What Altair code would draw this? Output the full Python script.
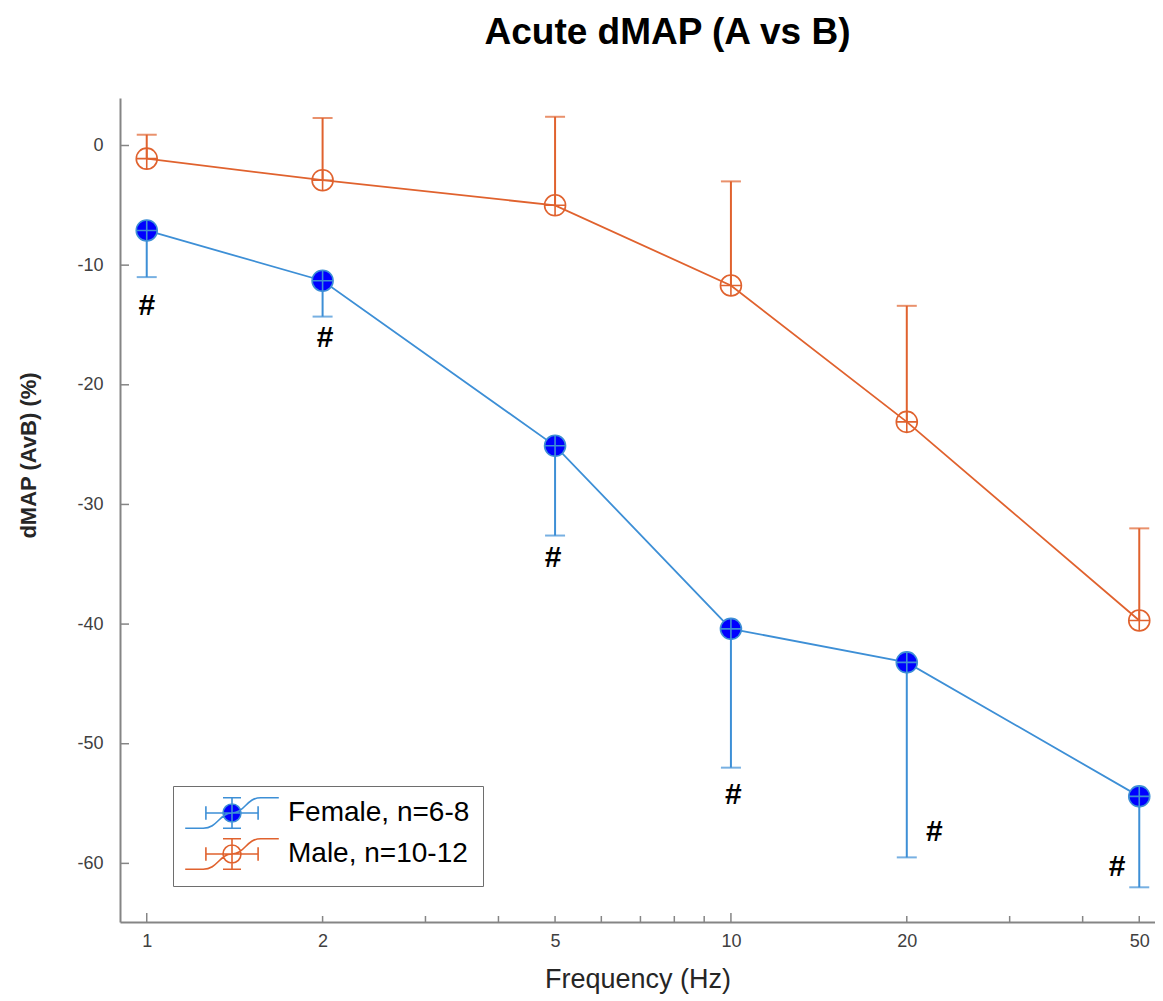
import altair as alt
import pandas as pd

# ---- data ----
freq = [1, 2, 5, 10, 20, 50]
series = ["Female, n=6-8", "Male, n=10-12"]
female_mean = [-7.1, -11.3, -25.1, -40.4, -43.2, -54.4]
female_lower = [-11.0, -14.3, -32.6, -52.0, -59.5, -62.0]
male_mean = [-1.1, -2.9, -5.0, -11.7, -23.1, -39.7]
male_upper = [0.9, 2.3, 2.4, -3.0, -13.4, -32.0]
hash_x = [1.0, 2.02, 4.96, 10.1, 22.3, 45.8]
hash_y = [-13.4, -16.1, -34.5, -54.3, -57.4, -60.3]
x_labels = [1, 2, 5, 10, 20, 50]
x_major_ticks = [1, 10]
x_minor_ticks = [2, 3, 4, 5, 6, 7, 8, 9, 20, 30, 40, 50]
y_ticks = [0, -10, -20, -30, -40, -50, -60]

BLUE = "#3D8FD6"
BLUE_FILL = "#0000FF"
ORANGE = "#E0622E"
AXIS = "#858585"
FONT = "Liberation Sans"
W, H = 1035, 824

rows = []
for f, m, b in zip(freq, female_mean, female_lower):
    rows.append({"series": series[0], "freq": f, "mean": m, "bound": b})
for f, m, b in zip(freq, male_mean, male_upper):
    rows.append({"series": series[1], "freq": f, "mean": m, "bound": b})
df = pd.DataFrame(rows)
hash_df = pd.DataFrame({"x": hash_x, "y": hash_y})

xscale = alt.Scale(type="log", domain=[0.9, 53.2], nice=False)
yscale = alt.Scale(domain=[-64.9, 3.97], nice=False, zero=False)

xaxis = alt.Axis(values=x_labels, labelExpr="'' + datum.value", ticks=False, tickSize=0, grid=False,
                 domainColor=AXIS, domainWidth=2, labelFont=FONT, labelFontSize=18,
                 labelColor="#404040", labelPadding=10, labelFlush=False,
                 title="Frequency (Hz)", titleFont=FONT, titleFontSize=27,
                 titleFontWeight="normal", titleColor="#262626", titlePadding=16)
yaxis = alt.Axis(values=y_ticks, labelExpr="'' + datum.value", ticks=False, tickSize=0, grid=False,
                 domainColor=AXIS, domainWidth=2, labelFont=FONT, labelFontSize=18,
                 labelColor="#404040", labelPadding=17, labelFlush=False,
                 title="dMAP (AvB) (%)", titleFont=FONT, titleFontSize=22,
                 titleFontWeight="bold", titleColor="#262626", titlePadding=36, titleY=357)


def X(field):
    return alt.X(field, type="quantitative", scale=xscale, axis=xaxis)


def Y(field):
    return alt.Y(field, type="quantitative", scale=yscale, axis=yaxis)


# colour scale for lines / bars / caps (domain order reversed so it never merges with the legend)
color = alt.Color("series:N", scale=alt.Scale(domain=series[::-1], range=[ORANGE, BLUE]), legend=None)

marker_path = "M -1 0 A 1 1 0 1 0 1 0 A 1 1 0 1 0 -1 0 Z M -1 0 L 1 0 M 0 -1 L 0 1"
legend_path = (
    "M -1 0 A 1 1 0 1 0 1 0 A 1 1 0 1 0 -1 0 Z "
    "M -2.9 0 L 2.9 0 M -2.9 -0.75 L -2.9 0.75 M 2.9 -0.75 L 2.9 0.75 "
    "M 0 -1.7 L 0 1.7 M -1 -1.7 L 1 -1.7 M -1 1.7 L 1 1.7 "
    "M -5.2 1.7 L -3.2 1.7 C -1.6 1.7 -1.4 0 0 0 C 1.4 0 1.6 -1.7 3.2 -1.7 L 5.2 -1.7 "
    "L 3.2 -1.7 C 1.6 -1.7 1.4 0 0 0 C -1.4 0 -1.6 1.7 -3.2 1.7 Z"
)

legend = alt.Legend(title=None, orient="none", legendX=53, legendY=688,
                    symbolType=legend_path, symbolSize=324, symbolStrokeWidth=1.6,
                    labelFont=FONT, labelFontSize=28, labelColor="black", labelLimit=500,
                    strokeColor="#6e6e6e", fillColor="white", padding=13,
                    rowPadding=3, symbolOffset=32, labelOffset=42)

base = alt.Chart(df)

lines = base.mark_line(strokeWidth=1.8).encode(x=X("freq"), y=Y("mean"), color=color, detail="series:N")
bars = base.mark_rule(strokeWidth=2).encode(x=X("freq"), y=Y("mean"), y2="bound:Q", color=color)
caps = base.mark_tick(orient="horizontal", size=20, thickness=2).encode(x=X("freq"), y=Y("bound"), color=color)
points = base.mark_point(shape=marker_path, size=441, strokeWidth=1.6, opacity=1).encode(
    x=X("freq"), y=Y("mean"),
    stroke=alt.Stroke("series:N", scale=alt.Scale(domain=series, range=[BLUE, ORANGE]), legend=legend),
    fill=alt.Fill("series:N", scale=alt.Scale(domain=series, range=[BLUE_FILL, "transparent"]), legend=legend),
)
hashes = alt.Chart(hash_df).mark_text(text="#", font=FONT, fontSize=30, fontWeight="bold", color="black",
                                      baseline="middle", align="center").encode(x=X("x"), y=Y("y"))

xt_major = alt.Chart(pd.DataFrame({"v": x_major_ticks})).mark_rule(color=AXIS, strokeWidth=1.5).encode(
    x=X("v"), y=alt.value(H), y2=alt.value(H - 9))
xt_minor = alt.Chart(pd.DataFrame({"v": x_minor_ticks})).mark_rule(color=AXIS, strokeWidth=1.5).encode(
    x=X("v"), y=alt.value(H), y2=alt.value(H - 6))
yt = alt.Chart(pd.DataFrame({"v": y_ticks})).mark_rule(color=AXIS, strokeWidth=1.5).encode(
    y=Y("v"), x=alt.value(0), x2=alt.value(9))

chart = alt.layer(xt_major, xt_minor, yt, lines, bars, caps, points, hashes).properties(
    width=W, height=H,
    title=alt.Title("Acute dMAP (A vs B)", font=FONT, fontSize=37, fontWeight="bold",
                    color="black", anchor="middle", frame="group", dx=30, offset=46),
    autosize=alt.AutoSizeParams(type="none"),
    padding={"left": 112, "top": 90, "right": 0, "bottom": 78},
).configure(background="white").configure_view(stroke=None)

chart.save("out.html", embed_options={"renderer": "svg", "actions": False})
